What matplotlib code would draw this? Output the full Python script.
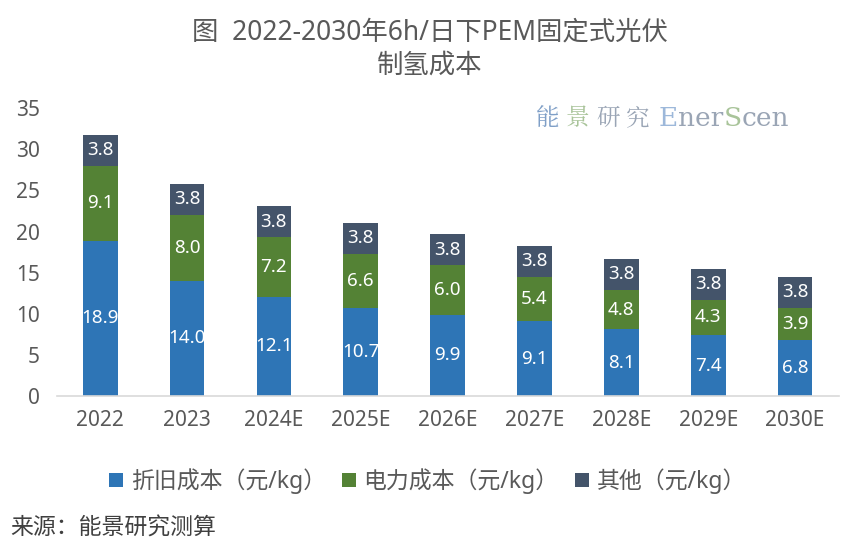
import matplotlib
matplotlib.use("Agg")
import matplotlib.pyplot as plt
import numpy as np

plt.rcParams['font.family'] = ['Noto Sans', 'Noto Sans CJK SC', 'DejaVu Sans']

categories = ['2022', '2023', '2024E', '2025E', '2026E', '2027E', '2028E', '2029E', '2030E']
depreciation = [18.9, 14.0, 12.1, 10.7, 9.9, 9.1, 8.1, 7.4, 6.8]
power = [9.1, 8.0, 7.2, 6.6, 6.0, 5.4, 4.8, 4.3, 3.9]
other = [3.8, 3.8, 3.8, 3.8, 3.8, 3.8, 3.8, 3.8, 3.8]
series_names = ['折旧成本（元/kg）', '电力成本（元/kg）', '其他（元/kg）']
colors = ['#2E75B6', '#548235', '#44546A']
yticks = [0, 5, 10, 15, 20, 25, 30, 35]

fig = plt.figure(figsize=(8.6, 5.55), dpi=100)
ax = fig.add_axes([0.066, 0.2865, 0.909, 0.5185])

x = np.arange(len(categories))
w = 0.4
d = np.array(depreciation)
p = np.array(power)
o = np.array(other)
bars = []
bottoms = [np.zeros(len(x)), d, d + p]
for vals, bot, c, name in zip([d, p, o], bottoms, colors, series_names):
    b = ax.bar(x, vals, w, bottom=bot, color=c, label=name, zorder=2)
    bars.append(b)
    for xi, v, bt in zip(x, vals, bot):
        ax.text(xi, bt + v / 2, f'{v:.1f}', ha='center', va='center',
                color='white', fontsize=13.5, zorder=3)

ax.set_xlim(-0.5, len(x) - 0.5)
ax.set_ylim(0, 35)
ax.set_yticks(yticks)
ax.set_xticks(x)
ax.set_xticklabels(categories)
for s in ['left', 'right', 'top']:
    ax.spines[s].set_visible(False)
ax.spines['bottom'].set_color('#D9D9D9')
ax.spines['bottom'].set_linewidth(1.2)
ax.tick_params(axis='both', length=0, labelsize=15, colors='#595959')
ax.tick_params(axis='x', pad=10)
ax.tick_params(axis='y', pad=12)

fig.text(0.5, 0.942, '图  2022-2030年6h/日下PEM固定式光伏', ha='center', va='center',
         fontsize=19, color='#595959')
fig.text(0.5, 0.882, '制氢成本', ha='center', va='center', fontsize=19, color='#595959')

# watermark
wm_y = 1 - 118 / 555
cjk_parts = [('能', '#7F9FC7'), ('景', '#A9C49A'), ('研', '#9AA5B5'), ('究', '#9AA5B5')]
cjk_x = [536, 566, 596, 626]
for (txt, col), px in zip(cjk_parts, cjk_x):
    fig.text(px / 860, wm_y, txt, ha='left', va='center', fontsize=17, color=col,
             family=['Noto Serif CJK SC', 'Noto Sans CJK SC'])
lat_parts = [('E', '#9DB8DA'), ('ner', '#9AA5B5'), ('S', '#A9C49A'), ('cen', '#9AA5B5')]
renderer = fig.canvas.get_renderer()
xpos = 659
for txt, col in lat_parts:
    t = fig.text(xpos / 860, wm_y, txt, ha='left', va='center', fontsize=19, color=col,
                 family=['DejaVu Serif'])
    bb = t.get_window_extent(renderer=renderer)
    xpos += bb.width

leg = fig.legend(handles=bars, labels=series_names, loc='center', bbox_to_anchor=(0.497, 1 - 481 / 555),
                 ncol=3, frameon=False, fontsize=16.5, handlelength=0.6, handleheight=0.6,
                 handletextpad=0.35, columnspacing=0.7, labelcolor='#595959')

fig.text(10 / 860, 1 - 529 / 555, '来源：能景研究测算', ha='left', va='center', fontsize=16.5, color='#404040')

fig.savefig('out.png', dpi=100)
